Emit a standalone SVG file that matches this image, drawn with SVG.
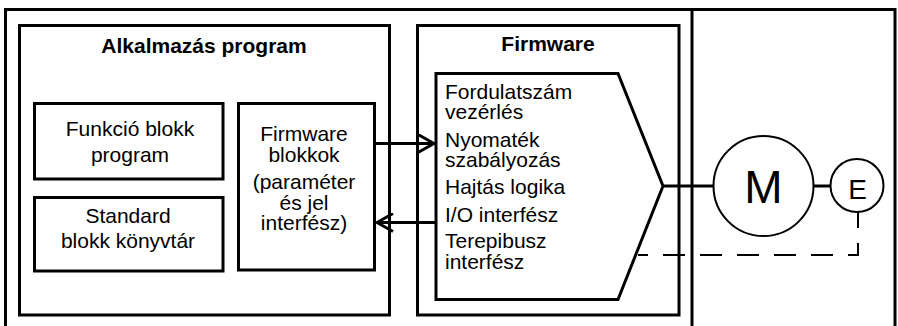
<svg xmlns="http://www.w3.org/2000/svg" width="898" height="326" viewBox="0 0 898 326">
<style>
  .box{fill:none;stroke:#000;stroke-width:3}
  .thin{fill:none;stroke:#000;stroke-width:2}
  .t{font-family:"Liberation Sans",Arial,sans-serif;font-size:21px;fill:#000}
  .c{text-anchor:middle}
  .b{font-weight:bold}
</style>
<defs>
  <marker id="arr" viewBox="0 0 20 20" refX="18" refY="10" markerWidth="20" markerHeight="20" markerUnits="userSpaceOnUse" orient="auto">
    <path d="M2,1 L18,10 L2,19" fill="none" stroke="#000" stroke-width="3"/>
  </marker>
</defs>
<rect width="898" height="326" fill="#fff"/>
<g id="frame">
  <path class="box" d="M5.5,326 V9.5 H895 V326"/>
  <line class="box" x1="692" y1="9.5" x2="692" y2="326"/>
</g>
<g id="alkalmazas">
  <rect class="box" x="19.5" y="25.5" width="370" height="289.5"/>
  <text class="t b c" x="204" y="53">Alkalmazás program</text>
</g>
<g id="funkcio">
  <rect class="box" x="34.5" y="103.5" width="188.5" height="75.5"/>
  <text class="t c" x="130" y="136">Funkció blokk</text>
  <text class="t c" x="130" y="162">program</text>
</g>
<g id="standard">
  <rect class="box" x="34.5" y="197.5" width="188.5" height="73.5"/>
  <text class="t c" x="128" y="222.5">Standard</text>
  <text class="t c" x="128" y="248">blokk könyvtár</text>
</g>
<g id="fwblokkok">
  <rect class="box" x="238.5" y="103.5" width="136" height="166.5"/>
  <text class="t c" x="304" y="141">Firmware</text>
  <text class="t c" x="304" y="162">blokkok</text>
  <text class="t c" x="304" y="188.5">(paraméter</text>
  <text class="t c" x="304" y="209.5">és jel</text>
  <text class="t c" x="304" y="230">interfész)</text>
</g>
<g id="firmware">
  <rect class="box" x="417.5" y="25.5" width="261.5" height="289.5"/>
  <text class="t b c" x="548" y="51">Firmware</text>
</g>
<g id="funcs">
  <path class="box" d="M436,73.5 H618 L663,186 L618,299.5 H436 Z"/>
  <text class="t" x="445" y="99">Fordulatszám</text>
  <text class="t" x="445" y="119">vezérlés</text>
  <text class="t" x="445" y="147">Nyomaték</text>
  <text class="t" x="445" y="167">szabályozás</text>
  <text class="t" x="445" y="193.5">Hajtás logika</text>
  <text class="t" x="445" y="221.5">I/O interfész</text>
  <text class="t" x="445" y="248">Terepibusz</text>
  <text class="t" x="445" y="269">interfész</text>
</g>
<g id="motor">
  <circle class="thin" cx="763.5" cy="186" r="50"/>
  <text class="t c" x="763.5" y="203" style="font-size:46px">M</text>
</g>
<g id="encoder">
  <circle class="thin" cx="857" cy="185.5" r="26.5"/>
  <text class="t c" x="857.5" y="198.5" style="font-size:28px">E</text>
</g>
<g id="connectors">
  <line class="box" x1="375" y1="143.5" x2="434" y2="143.5" marker-end="url(#arr)"/>
  <line class="box" x1="436" y1="222.5" x2="377" y2="222.5" marker-end="url(#arr)"/>
  <line class="box" x1="663" y1="186" x2="713.5" y2="186"/>
  <line class="box" x1="813.5" y1="186" x2="830.5" y2="186"/>
  <path class="thin" d="M858,212 V255 H638" stroke-dasharray="22 15" stroke-dashoffset="6"/>
</g>
</svg>
